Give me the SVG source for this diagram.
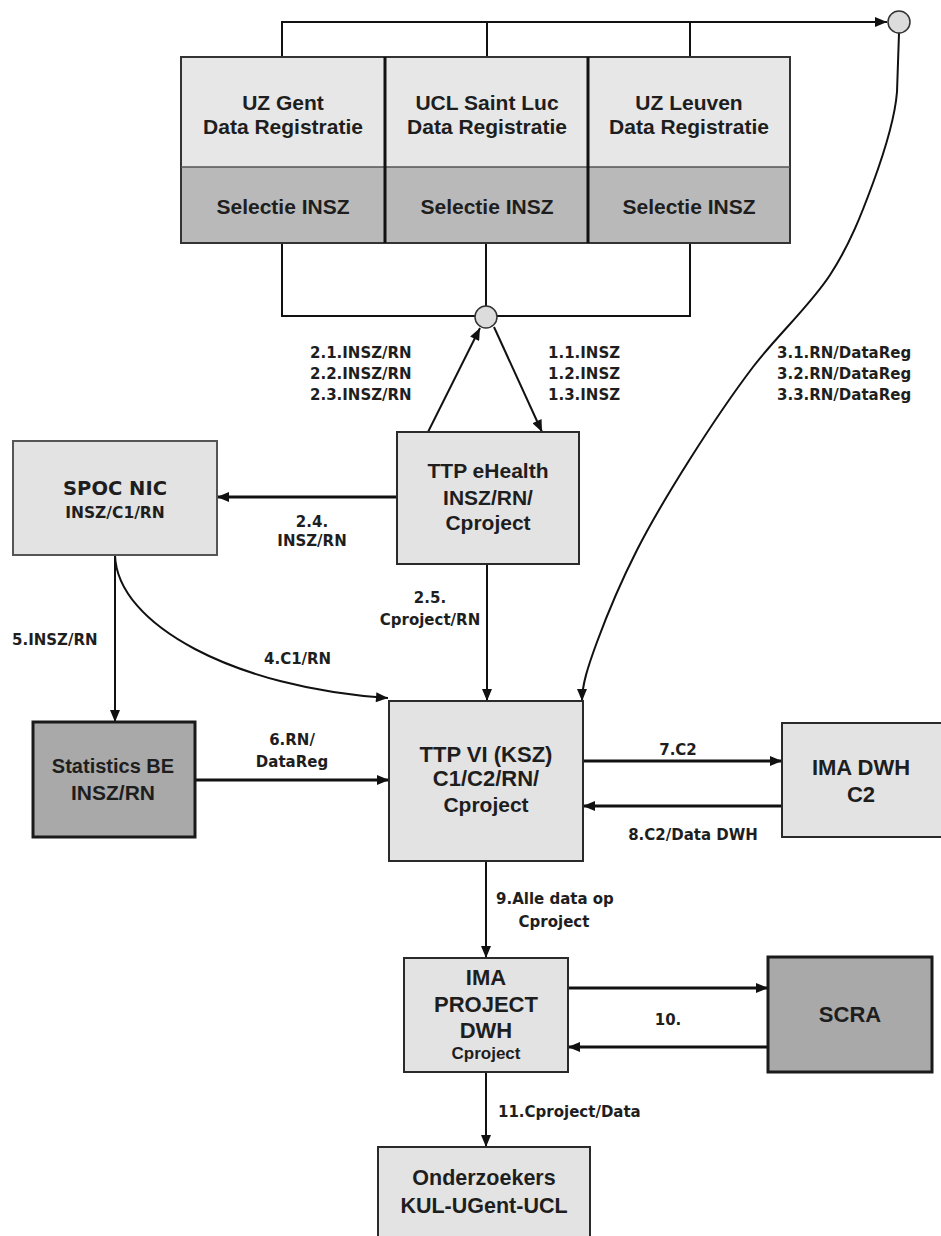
<svg xmlns="http://www.w3.org/2000/svg" width="941" height="1236" viewBox="0 0 941 1236">
<style>
  .light { fill: #e3e3e3; stroke: #2a2a2a; stroke-width: 2; }
  .dark { fill: #a9a9a9; stroke: #1a1a1a; stroke-width: 3; }
  .mid { fill: #b9b9b9; stroke: none; }
  .top { fill: #e7e7e7; stroke: none; }
  .t { font-family: "Liberation Sans", Arial, sans-serif; font-weight: bold; font-size: 21px; fill: #1e1e1e; text-anchor: middle; }
  .d { font-family: "DejaVu Sans", sans-serif; font-weight: bold; fill: #1e1e1e; }
  .lbl { font-family: "DejaVu Sans", sans-serif; font-weight: bold; font-size: 15px; fill: #1e1e1e; }
  .c { text-anchor: middle; }
  .ln { fill: none; stroke: #111; stroke-width: 2; }
  .thick { stroke-width: 3; }
  .arr { marker-end: url(#ah); }
  .node { fill: #dcdcdc; stroke: #333; stroke-width: 1.5; }
</style>
<defs>
  <marker id="ah" viewBox="0 0 12 10" refX="12" refY="5" markerWidth="13" markerHeight="10" markerUnits="userSpaceOnUse" orient="auto">
    <path d="M0,0 L12,5 L0,10 z" fill="#111"/>
  </marker>
</defs>
<rect width="941" height="1236" fill="#ffffff"/>

<g id="connectors">
  <path class="ln arr" d="M282,57 V22 H887"/>
  <path class="ln" d="M487,57 V22"/>
  <path class="ln" d="M690,57 V22"/>
  <path class="ln" d="M282,243 V316 H690 V243"/>
  <path class="ln" d="M486,243 V306"/>
  <path class="ln arr" d="M428,432 L480,328"/>
  <path class="ln arr" d="M494,327 L542,432"/>
  <path class="ln thick arr" d="M397,497 H217"/>
  <path class="ln arr" d="M487,564 V701"/>
  <path class="ln arr" d="M899,33 C898.7,44.5 898,67.3 897,92 C895,116.7 884.2,152.5 873,183 C861.8,213.5 850,244.3 830,275 C810,305.7 776.3,336.3 753,367 C729.7,397.7 709.3,428.5 690,459 C670.7,489.5 652.5,519.5 637,550 C621.5,580.5 606.2,617 597,642 C587.8,667 582,685 582,701"/>
  <path class="ln arr" d="M115,555 V722"/>
  <path class="ln arr" d="M115,555 C117,625 235,688 388,698"/>
  <path class="ln thick arr" d="M195,780 H389"/>
  <path class="ln thick arr" d="M583,761 H782"/>
  <path class="ln thick arr" d="M782,806 H583"/>
  <path class="ln arr" d="M486,861 V958"/>
  <path class="ln thick arr" d="M568,988 H768"/>
  <path class="ln thick arr" d="M768,1047 H568"/>
  <path class="ln arr" d="M486,1072 V1147"/>
  <circle class="node" cx="899" cy="22" r="11"/>
  <circle class="node" cx="486" cy="317" r="11"/>
</g>

<g id="labels">
  <text class="lbl" x="310" y="358">2.1.INSZ/RN</text>
  <text class="lbl" x="310" y="379">2.2.INSZ/RN</text>
  <text class="lbl" x="310" y="400">2.3.INSZ/RN</text>
  <text class="lbl" x="548" y="358">1.1.INSZ</text>
  <text class="lbl" x="548" y="379">1.2.INSZ</text>
  <text class="lbl" x="548" y="400">1.3.INSZ</text>
  <text class="lbl" x="777" y="358">3.1.RN/DataReg</text>
  <text class="lbl" x="777" y="379">3.2.RN/DataReg</text>
  <text class="lbl" x="777" y="400">3.3.RN/DataReg</text>
  <text class="lbl c" x="312" y="527">2.4.</text>
  <text class="lbl c" x="312" y="546">INSZ/RN</text>
  <text class="lbl c" x="430" y="603">2.5.</text>
  <text class="lbl c" x="430" y="625">Cproject/RN</text>
  <text class="lbl" x="12" y="645">5.INSZ/RN</text>
  <text class="lbl" x="264" y="664">4.C1/RN</text>
  <text class="lbl c" x="292" y="745">6.RN/</text>
  <text class="lbl c" x="292" y="767">DataReg</text>
  <text class="lbl c" x="678" y="755">7.C2</text>
  <text class="lbl c" x="693" y="840">8.C2/Data DWH</text>
  <text class="lbl" x="496" y="904">9.Alle data op</text>
  <text class="lbl c" x="554" y="927">Cproject</text>
  <text class="lbl c" x="668" y="1025">10.</text>
  <text class="lbl" x="498" y="1117">11.Cproject/Data</text>
</g>

<g id="uz-gent">
  <rect class="top" x="181" y="57" width="204" height="110"/>
  <rect class="mid" x="181" y="167" width="204" height="76"/>
  <text class="t" x="283" y="110">UZ Gent</text>
  <text class="t" x="283" y="134">Data Registratie</text>
  <text class="t" x="283" y="214">Selectie INSZ</text>
</g>
<g id="ucl-saint-luc">
  <rect class="top" x="385" y="57" width="203" height="110"/>
  <rect class="mid" x="385" y="167" width="203" height="76"/>
  <text class="t" x="487" y="110">UCL Saint Luc</text>
  <text class="t" x="487" y="134">Data Registratie</text>
  <text class="t" x="487" y="214">Selectie INSZ</text>
</g>
<g id="uz-leuven">
  <rect class="top" x="588" y="57" width="202" height="110"/>
  <rect class="mid" x="588" y="167" width="202" height="76"/>
  <text class="t" x="689" y="110">UZ Leuven</text>
  <text class="t" x="689" y="134">Data Registratie</text>
  <text class="t" x="689" y="214">Selectie INSZ</text>
</g>
<g id="top-frame">
  <rect x="181" y="57" width="609" height="186" fill="none" stroke="#333" stroke-width="2"/>
  <path d="M181,167 H790" stroke="#555" stroke-width="1.5" fill="none"/>
  <path d="M385,57 V243 M588,57 V243" stroke="#111" stroke-width="3" fill="none"/>
</g>

<g id="ttp-ehealth">
  <rect class="light" x="397" y="432" width="182" height="132"/>
  <text class="t" x="488" y="478">TTP eHealth</text>
  <text class="t" x="488" y="505">INSZ/RN/</text>
  <text class="t" x="488" y="530">Cproject</text>
</g>

<g id="spoc-nic">
  <rect class="light" x="13" y="441" width="204" height="114" style="stroke:#555"/>
  <text class="d c" x="115" y="495" font-size="19.5">SPOC NIC</text>
  <text class="d c" x="115" y="518" font-size="15.5">INSZ/C1/RN</text>
</g>

<g id="statistics-be">
  <rect class="dark" x="33" y="722" width="162" height="115"/>
  <text class="t" x="113" y="773" font-size="20" style="font-size:20px">Statistics BE</text>
  <text class="t" x="113" y="800">INSZ/RN</text>
</g>

<g id="ttp-vi">
  <rect class="light" x="389" y="701" width="194" height="160"/>
  <text class="t" x="486" y="762" style="font-size:22px">TTP VI (KSZ)</text>
  <text class="t" x="486" y="786" style="font-size:22px">C1/C2/RN/</text>
  <text class="t" x="486" y="812">Cproject</text>
</g>

<g id="ima-dwh">
  <rect class="light" x="782" y="723" width="161" height="114"/>
  <text class="t" x="861" y="775" style="font-size:22px">IMA DWH</text>
  <text class="t" x="861" y="802" style="font-size:22px">C2</text>
</g>

<g id="ima-project-dwh">
  <rect class="light" x="404" y="958" width="164" height="114"/>
  <text class="t" x="486" y="985" style="font-size:22px">IMA</text>
  <text class="t" x="486" y="1012" style="font-size:22px">PROJECT</text>
  <text class="t" x="486" y="1038" style="font-size:22px">DWH</text>
  <text class="t" x="486" y="1059" style="font-size:17px">Cproject</text>
</g>

<g id="scra">
  <rect class="dark" x="768" y="957" width="164" height="115"/>
  <text class="t" x="850" y="1022" style="font-size:22px">SCRA</text>
</g>

<g id="onderzoekers">
  <rect class="light" x="378" y="1147" width="212" height="95"/>
  <text class="t" x="484" y="1185" style="font-size:21.5px">Onderzoekers</text>
  <text class="t" x="484" y="1213" style="font-size:21.5px">KUL-UGent-UCL</text>
</g>
</svg>
